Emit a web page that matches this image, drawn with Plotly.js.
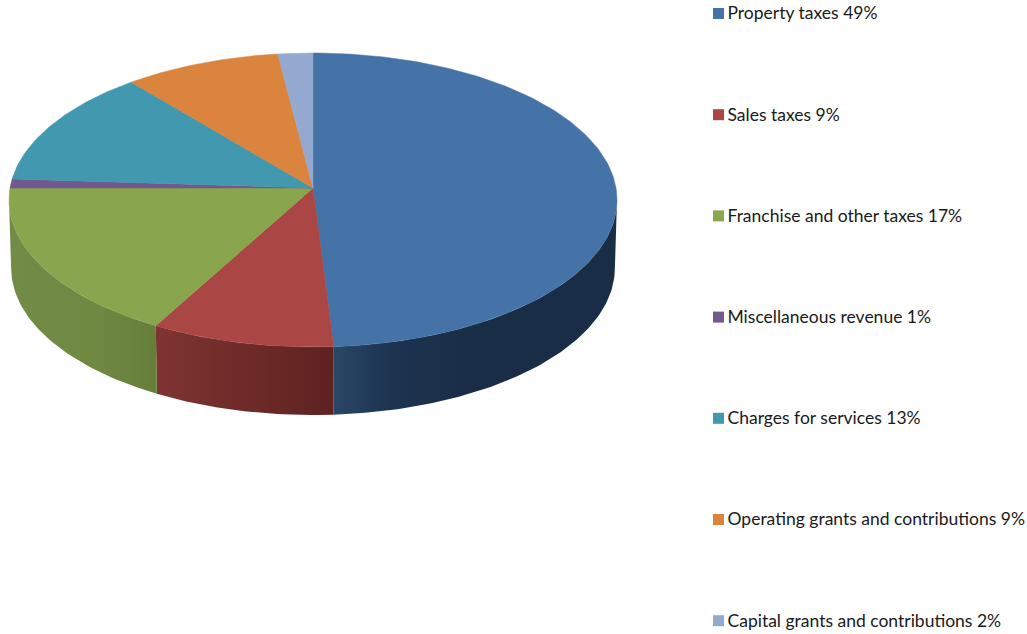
<!DOCTYPE html>
<html>
<head>
<meta charset="utf-8">
<script src="https://cdn.plot.ly/plotly-3.0.1.min.js"></script>
<style>html,body{margin:0;padding:0;background:#fff}#chart{width:1027px;height:634px}</style>
</head>
<body>
<div id="chart"></div>
<script>
const categories = ["Property taxes","Sales taxes","Franchise and other taxes","Miscellaneous revenue","Charges for services","Operating grants and contributions","Capital grants and contributions"];
const values = [49,9,17,1,13,9,2];
const colors = ["#4572A7","#AA4643","#89A54E","#71588F","#4198AF","#DB843D","#93A9CF"];
const wallShades = [
  [[0,"#2A4767"],[0.2,"#1D3350"],[0.5,"#1A2D46"],[1,"#1A2D46"]],
  [[0,"#7E3432"],[1,"#5E2220"]],
  [[0,"#718C46"],[0.6,"#6F8943"],[1,"#667E3A"]],
  null,null,null,null
];

// Projected disc: the pie plane seen in perspective
const cx = 313, cy = 188, a = 303, b = 146, k = 0.0816, depth = 68, bottomScale = 0.993;
function rim(deg, scale, dy){
  const t = deg*Math.PI/180, d = 1 + k*Math.cos(t);
  return [cx + scale*a*Math.sin(t)/d, cy - b*Math.cos(t)/d + dy];
}
function arc(from, to, scale, dy){
  const pts = [], n = Math.max(2, Math.ceil(Math.abs(to-from)));
  for(let i=0;i<=n;i++) pts.push(rim(from+(to-from)*i/n, scale, dy));
  return pts;
}
const total = values.reduce((s,v)=>s+v,0);
const frontFrom = Math.acos(-k)*180/Math.PI, frontTo = 360-frontFrom;

const walls = [], tops = [];
let cum = 0;
values.forEach((v,i)=>{
  const s = cum/total*360, e = (cum+v)/total*360; cum += v;
  const p = arc(s,e,1,0);
  tops.push({type:"scatter",mode:"lines",fill:"toself",fillcolor:colors[i],
    line:{color:colors[i],width:0.5},name:categories[i],
    x:[cx,...p.map(q=>q[0]),cx],y:[cy,...p.map(q=>q[1]),cy],
    hoverinfo:"name",showlegend:false});
  const ws = Math.max(s,frontFrom), we = Math.min(e,frontTo);
  if(we>ws && wallShades[i]){
    const top = arc(ws,we,1,0), bot = arc(we,ws,bottomScale,depth);
    const w = top.concat(bot);
    walls.push({type:"scatter",mode:"lines",fill:"toself",
      fillcolor:wallShades[i][0][1],
      fillgradient:{type:"horizontal",colorscale:wallShades[i]},
      line:{width:0},name:categories[i],
      x:[...w.map(q=>q[0]),w[0][0]],y:[...w.map(q=>q[1]),w[0][1]],
      hoverinfo:"name",showlegend:false});
  }
});

// Legend column
const legendX = 718.5, legendTextX = 727.5, legendY0 = 13.5, legendStep = 101.2, textDrop = 1.5;
const legendMarks = {type:"scatter",mode:"markers",
  x:categories.map(()=>legendX),
  y:categories.map((c,i)=>legendY0+i*legendStep),
  marker:{symbol:"square",size:11,color:colors,line:{width:0}},
  hoverinfo:"skip",showlegend:false};
const legendText = {type:"scatter",mode:"text",
  x:categories.map(()=>legendTextX),
  y:categories.map((c,i)=>legendY0+textDrop+i*legendStep),
  text:categories.map((c,i)=>c+" "+values[i]+"%"),
  textposition:"middle right",
  textfont:{family:"Lato, 'Open Sans', sans-serif",size:17.5,color:"#1a1a1a"},
  cliponaxis:false,hoverinfo:"skip",showlegend:false};

const axis = {visible:false,showgrid:false,zeroline:false,fixedrange:true};
Plotly.newPlot("chart",[...walls,...tops,legendMarks,legendText],{
  width:1027,height:634,margin:{l:0,r:0,t:0,b:0},
  paper_bgcolor:"#fff",plot_bgcolor:"#fff",showlegend:false,
  xaxis:{...axis,range:[0,1027]},
  yaxis:{...axis,range:[634,0]}
},{displayModeBar:false,responsive:false});
</script>
</body>
</html>
